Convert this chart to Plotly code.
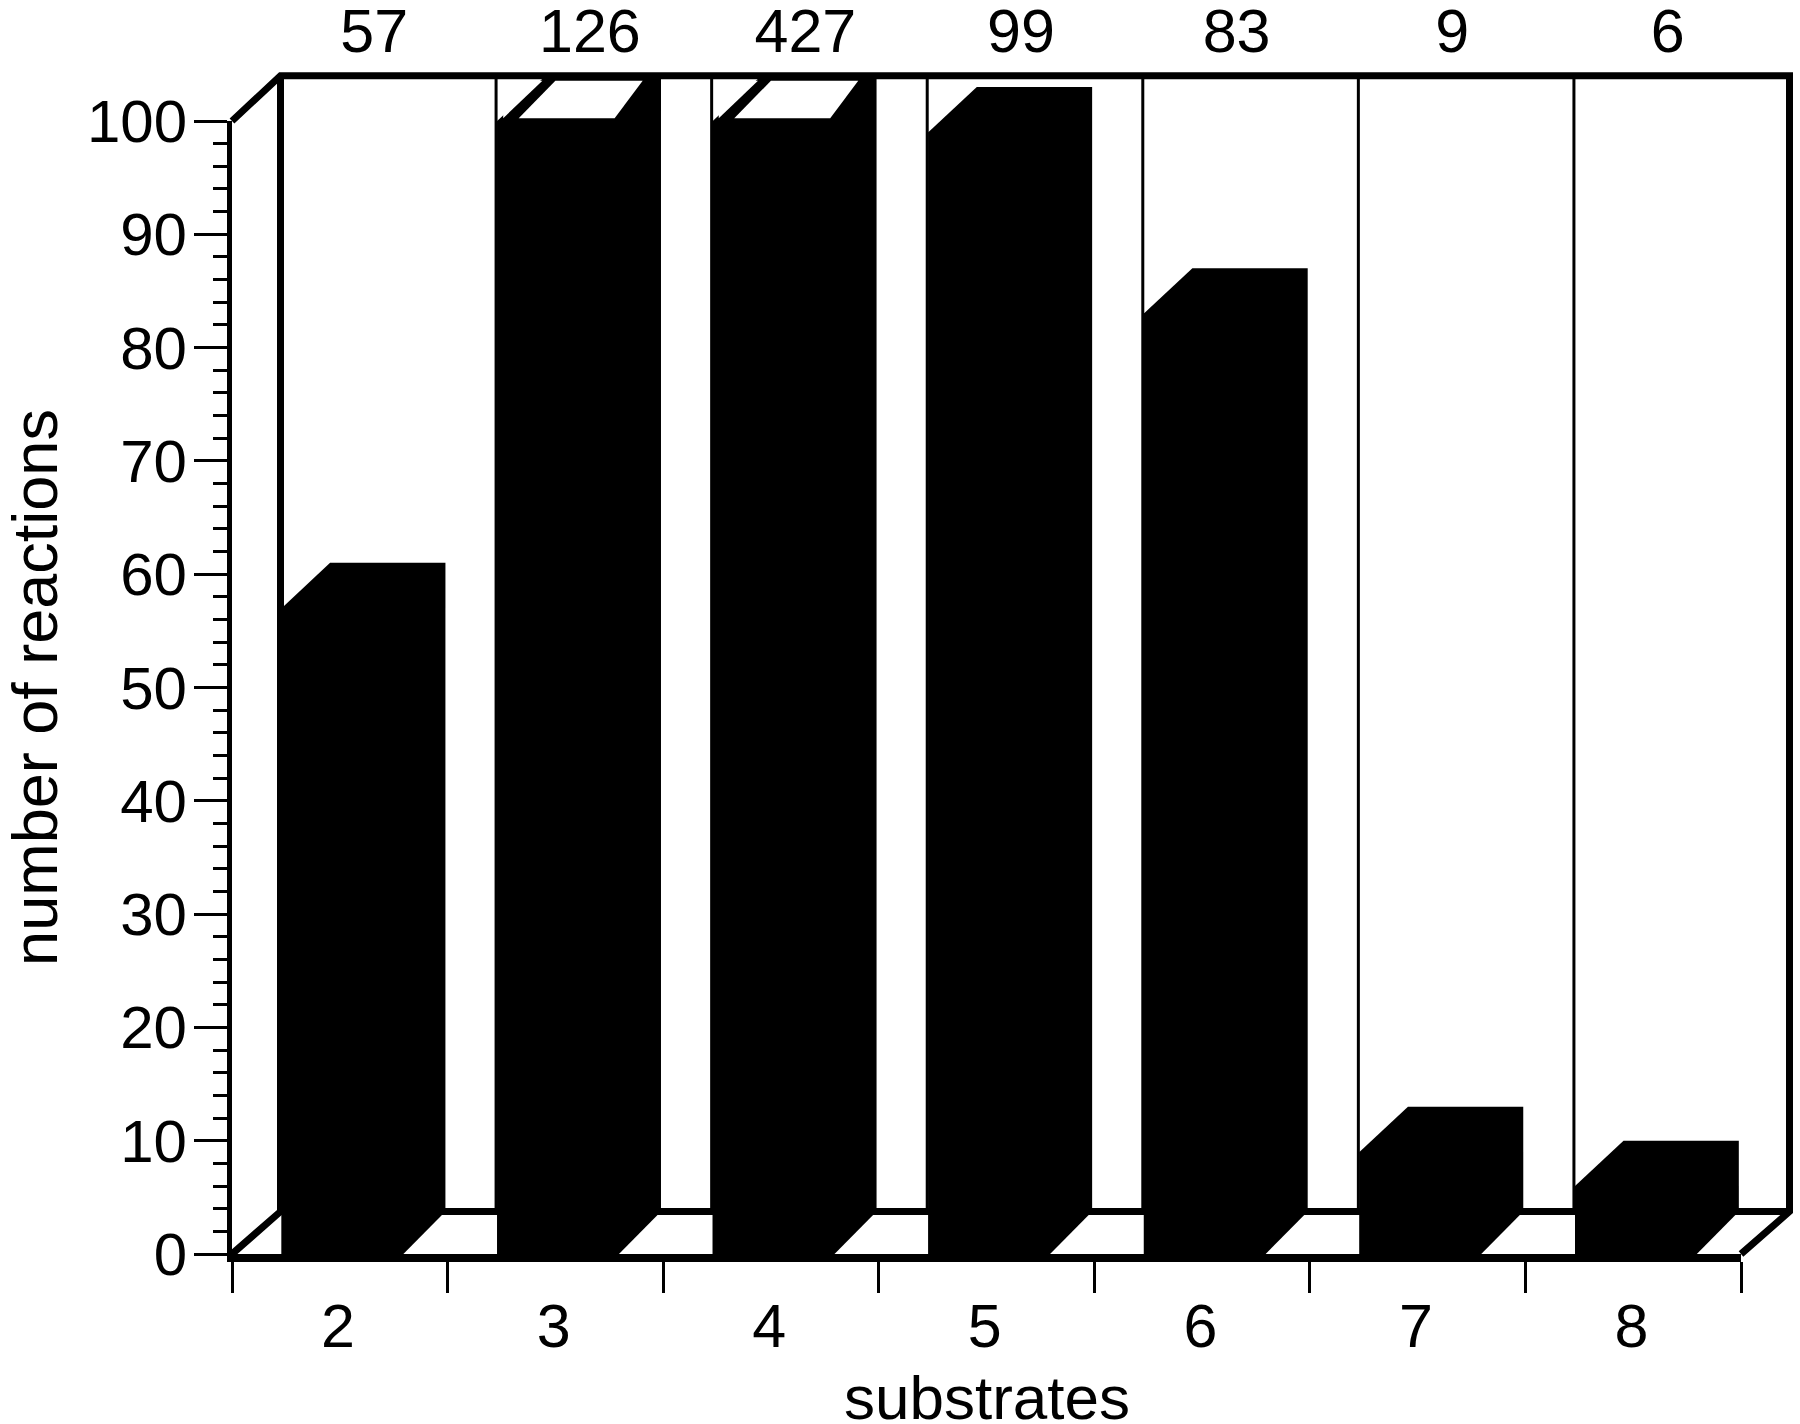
import plotly.graph_objects as go

# Substrate counts and the number of reactions observed for each
substrates = ["2", "3", "4", "5", "6", "7", "8"]
reaction_counts = [57, 126, 427, 99, 83, 9, 6]
y_ticks = [0, 10, 20, 30, 40, 50, 60, 70, 80, 90, 100]

WIDTH, HEIGHT = 1800, 1424
PLOT_L, PLOT_R, PLOT_T, PLOT_B = 232, 1741, 121, 1254   # front face of the box, in px

Y_MAX = 100
DEPTH_X = 0.225      # depth of the box, in category widths
DEPTH_Y = 4.0        # depth of the box, in reactions
FLOOR_Y = 3.75       # height of the rear floor edge
BAR_LEFT = 0.23
BAR_WIDTH = 0.535
FOOT = 0.03          # extra reach of the bar foot along the floor
FONT = "Liberation Sans"
INK = "#000000"

n = len(substrates)
px_per_cat = (PLOT_R - PLOT_L) / n
px_per_unit = (PLOT_B - PLOT_T) / Y_MAX

fig = go.Figure()


def outline(xs, ys, width):
    fig.add_trace(go.Scatter(
        x=xs, y=ys, xaxis="x2", yaxis="y2", mode="lines", hoverinfo="skip",
        line=dict(color=INK, width=width), showlegend=False))


def solid(xs, ys, color):
    fig.add_trace(go.Scatter(
        x=xs, y=ys, xaxis="x2", yaxis="y2", mode="lines", fill="toself",
        fillcolor=color, hoverinfo="skip",
        line=dict(color=color, width=0), showlegend=False))


# Front faces of the bars on the visible scale
fig.add_trace(go.Bar(
    x=[k + BAR_LEFT + BAR_WIDTH / 2 for k in range(n)],
    y=[min(c, Y_MAX) for c in reaction_counts],
    width=BAR_WIDTH, marker=dict(color=INK, line=dict(width=0)),
    hoverinfo="skip", showlegend=False))

# Back wall dividers
for k in range(1, n):
    outline([k + DEPTH_X, k + DEPTH_X], [FLOOR_Y, Y_MAX + DEPTH_Y], 3)

# Bars: one black silhouette for the front, top and side faces
for k, count in enumerate(reaction_counts):
    v = min(count, Y_MAX)
    left = k + BAR_LEFT
    right = left + BAR_WIDTH
    solid(
        [left, left, left + DEPTH_X, right + DEPTH_X, right + DEPTH_X, right + FOOT, left],
        [0, v, v + DEPTH_Y, v + DEPTH_Y, FLOOR_Y, 0, 0],
        INK,
    )
    # Bars running off the scale stay open at the top
    if count > Y_MAX:
        low = Y_MAX + 0.25
        high = Y_MAX + DEPTH_Y - 0.45
        solid([left + 0.028, left + 0.028, left + 0.21, left + 0.028],
              [low, high, high, low], "#ffffff")
        solid([left + 0.10, left + 0.27, right + DEPTH_X - 0.085, right + 0.01, left + 0.10],
              [low, high, high, low, low], "#ffffff")

# Box frame: floor, back wall and the receding edges
outline([DEPTH_X, n + DEPTH_X], [FLOOR_Y, FLOOR_Y], 7)
outline([0, DEPTH_X, DEPTH_X], [0, FLOOR_Y, Y_MAX + DEPTH_Y], 7)
outline([0, DEPTH_X, n + DEPTH_X, n + DEPTH_X, n],
        [Y_MAX, Y_MAX + DEPTH_Y, Y_MAX + DEPTH_Y, FLOOR_Y, 0], 7)

# Category labels below the axis, counts above the box
fig.add_trace(go.Scatter(
    x=[k + 0.492 for k in range(n)], y=[-6.85] * n, text=substrates,
    xaxis="x2", yaxis="y2", mode="text", hoverinfo="skip", showlegend=False,
    cliponaxis=False, textfont=dict(family=FONT, size=61, color=INK)))
fig.add_trace(go.Scatter(
    x=[k + 0.66 for k in range(n)], y=[107.45] * n,
    text=[str(c) for c in reaction_counts],
    xaxis="x2", yaxis="y2", mode="text", hoverinfo="skip", showlegend=False,
    cliponaxis=False, textfont=dict(family=FONT, size=61, color=INK)))

# Horizontal axis title, centred under the front face
fig.add_annotation(
    text="substrates", xref="x2", yref="y2", x=n / 2, y=-12.7, showarrow=False,
    xanchor="center", yanchor="middle", font=dict(family=FONT, size=62, color=INK))

fig.update_layout(
    width=WIDTH, height=HEIGHT,
    margin=dict(l=0, r=0, t=0, b=0, autoexpand=False),
    paper_bgcolor="#ffffff", plot_bgcolor="rgba(0,0,0,0)",
    showlegend=False,
    font=dict(family=FONT, size=60, color=INK),
    xaxis=dict(
        domain=[PLOT_L / WIDTH, PLOT_R / WIDTH],
        range=[0, n], tickvals=list(range(n + 1)), showticklabels=False,
        ticks="outside", ticklen=31, tickwidth=3, tickcolor=INK,
        showline=True, linewidth=8, linecolor=INK, showgrid=False, zeroline=False,
    ),
    yaxis=dict(
        domain=[1 - PLOT_B / HEIGHT, 1 - PLOT_T / HEIGHT],
        range=[0, Y_MAX], tickvals=y_ticks, ticks="outside", ticklen=33, tickwidth=3,
        tickcolor=INK, tickfont=dict(size=60), ticklabelstandoff=-5,
        minor=dict(dtick=2, ticks="outside", ticklen=14, tickwidth=3, tickcolor=INK,
                   showgrid=False),
        showline=True, linewidth=5, linecolor=INK, showgrid=False, zeroline=False,
        title=dict(text="number of reactions", font=dict(size=63), standoff=21),
    ),
    # Full-canvas axes sharing the scale of the front face, for the receding box
    xaxis2=dict(
        domain=[0, 1], anchor="y2", visible=False,
        range=[-PLOT_L / px_per_cat, (WIDTH - PLOT_L) / px_per_cat],
    ),
    yaxis2=dict(
        domain=[0, 1], anchor="x2", visible=False,
        range=[-(HEIGHT - PLOT_B) / px_per_unit, PLOT_B / px_per_unit],
    ),
)

fig.write_html("out.html")
